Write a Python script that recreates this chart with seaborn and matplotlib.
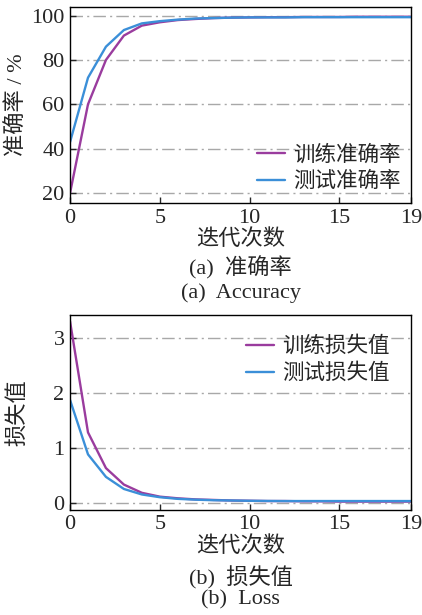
import seaborn as sns
import matplotlib.pyplot as plt
import numpy as np
import pandas as pd

epochs = list(range(20))
train_acc = [20, 60, 80, 91, 95.5, 97, 98, 98.5, 98.9, 99.1, 99.2, 99.3, 99.3, 99.4, 99.4, 99.4, 99.5, 99.5, 99.5, 99.5]
test_acc = [43, 72, 86, 93.5, 96.5, 97.5, 98.2, 98.7, 98.9, 99.1, 99.2, 99.2, 99.2, 99.3, 99.3, 99.3, 99.3, 99.3, 99.3, 99.3]
train_loss = [3.3, 1.28, 0.63, 0.33, 0.18, 0.11, 0.08, 0.06, 0.05, 0.04, 0.035, 0.03, 0.03, 0.025, 0.025, 0.02, 0.02, 0.02, 0.02, 0.02]
test_loss = [1.87, 0.88, 0.47, 0.25, 0.15, 0.10, 0.07, 0.055, 0.045, 0.04, 0.035, 0.032, 0.03, 0.03, 0.03, 0.03, 0.03, 0.03, 0.03, 0.03]

sns.set_style("white")
plt.rcParams['font.family'] = ['Liberation Serif', 'Noto Sans CJK SC']
plt.rcParams['axes.unicode_minus'] = False

purple = "#9a3c9e"
blue = "#3b8fd8"

fig = plt.figure(figsize=(4.22, 6.15), dpi=100)
ax1 = fig.add_axes([0.166, 0.670, 0.808, 0.319])
ax2 = fig.add_axes([0.166, 0.171, 0.808, 0.317])

acc = pd.DataFrame({"epoch": epochs * 2,
                    "value": train_acc + test_acc,
                    "kind": ["训练准确率"] * 20 + ["测试准确率"] * 20})
loss = pd.DataFrame({"epoch": epochs * 2,
                     "value": train_loss + test_loss,
                     "kind": ["训练损失值"] * 20 + ["测试损失值"] * 20})

sns.lineplot(data=acc, x="epoch", y="value", hue="kind", ax=ax1,
             palette=[purple, blue], linewidth=1.7)
sns.lineplot(data=loss, x="epoch", y="value", hue="kind", ax=ax2,
             palette=[purple, blue], linewidth=1.7)

def style(ax, yticks, ylim, ylabel, loc, pad):
    ax.set_xlim(0, 19)
    ax.set_ylim(*ylim)
    ax.set_xticks([0, 5, 10, 15, 19])
    ax.set_yticks(yticks)
    ax.set_xlabel("迭代次数", fontsize=16, labelpad=1)
    ax.set_ylabel(ylabel, fontsize=16)
    ax.yaxis.set_label_coords(-0.123, 0.5)
    ax.tick_params(direction="in", length=4, width=1, labelsize=16,
                   left=True, bottom=True, top=False, right=False, pad=4)
    ax.yaxis.grid(True, color="#a8a8a8", linestyle=(0, (9, 3, 1.5, 3)), linewidth=1)
    ax.set_axisbelow(True)
    for s in ax.spines.values():
        s.set_linewidth(1.0)
        s.set_color("black")
    ax.legend(loc=loc, frameon=False, fontsize=15.5, handlelength=1.3,
              handletextpad=0.35, borderaxespad=pad, labelspacing=0.3)

style(ax1, [20, 40, 60, 80, 100], (15.5, 104), "准确率 / %", "lower right", 0.1)
style(ax2, [0, 1, 2, 3], (-0.13, 3.42), "损失值", "upper right", 0.6)

fig.text(0.57, 0.564, "(a)  准确率", ha="center", va="center", fontsize=16)
fig.text(0.57, 0.524, "(a)  Accuracy", ha="center", va="center", fontsize=16)
fig.text(0.57, 0.060, "(b)  损失值", ha="center", va="center", fontsize=16)
fig.text(0.57, 0.024, "(b)  Loss", ha="center", va="center", fontsize=16)

plt.savefig("out.png", dpi=100)
